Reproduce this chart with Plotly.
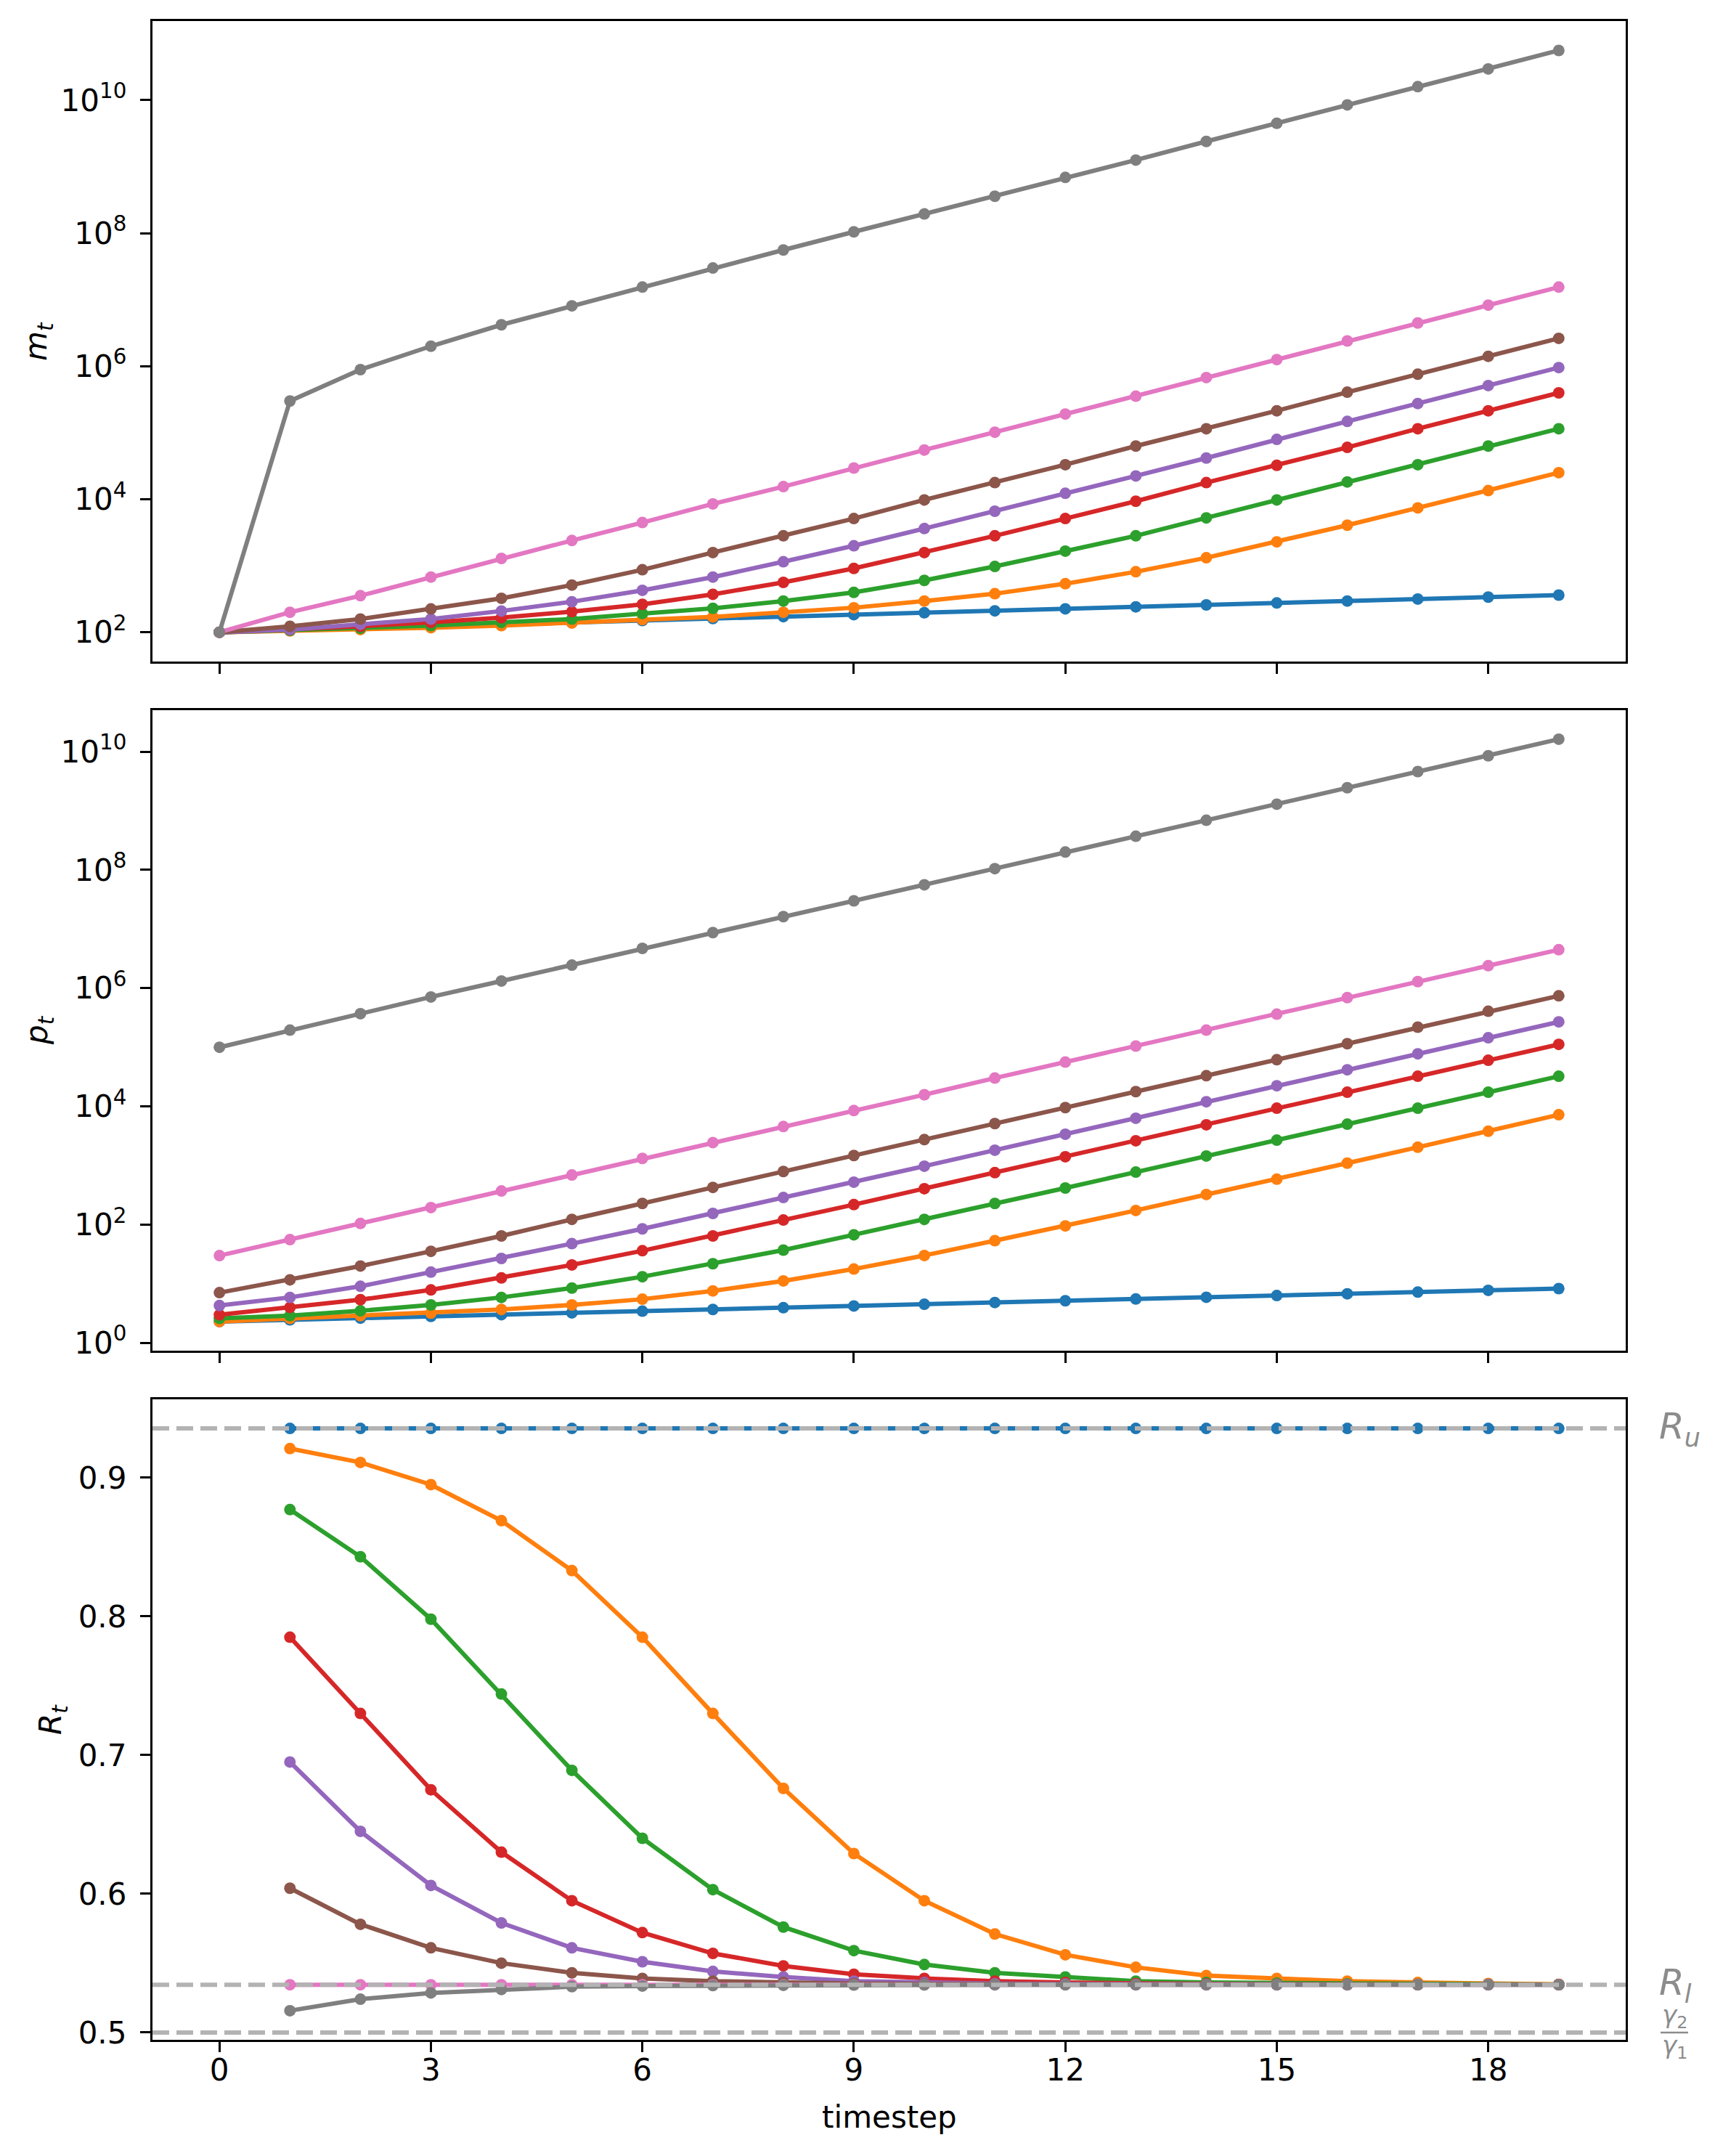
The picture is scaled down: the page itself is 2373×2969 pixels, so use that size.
import plotly.graph_objects as go

# timesteps
t = list(range(20))
t_r = list(range(1, 20))

names = ["blue", "orange", "green", "red", "purple", "brown", "pink", "gray"]
colors = ["#1f77b4", "#ff7f0e", "#2ca02c", "#d62728", "#9467bd", "#8c564b", "#e377c2", "#7f7f7f"]

# m_t (top panel, log scale)
m_blue = [100, 107, 114, 122, 131, 140, 150, 161, 172, 184, 197, 210, 225, 241, 258, 276, 295, 316, 338, 362]
m_orange = [100, 105, 110, 117, 126, 138, 155, 170, 200, 234, 295, 380, 537, 813, 1320, 2290, 4070, 7410, 13500, 25100]
m_green = [100, 107, 115, 126, 141, 158, 191, 229, 295, 398, 603, 977, 1660, 2820, 5250, 9770, 18200, 33100, 63100, 115000]
m_red = [100, 110, 123, 141, 166, 204, 263, 372, 562, 912, 1580, 2820, 5130, 9330, 17800, 32400, 60300, 115000, 214000, 398000]
m_purple = [100, 110, 132, 158, 209, 288, 427, 676, 1150, 2000, 3630, 6610, 12300, 22400, 41700, 79400, 148000, 275000, 513000, 955000]
m_brown = [100, 123, 158, 224, 324, 513, 871, 1580, 2820, 5130, 9770, 17800, 33100, 63100, 115000, 214000, 407000, 759000, 1.41e6, 2.63e6]
m_pink = [100, 200, 355, 676, 1290, 2400, 4470, 8510, 15500, 29500, 55000, 102000, 191000, 355000, 676000, 1.26e6, 2.4e6, 4.47e6, 8.3e6, 1.55e7]
m_gray = [100, 3.0e5, 8.9e5, 2.0e6, 4.2e6, 8.1e6, 1.55e7, 3.0e7, 5.6e7, 1.05e8, 1.95e8, 3.6e8, 6.9e8, 1.26e9, 2.4e9, 4.5e9, 8.5e9, 1.6e10, 2.95e10, 5.6e10]

# p_t (middle panel, log scale)
p_blue = [2.3, 2.46, 2.63, 2.82, 3.01, 3.23, 3.45, 3.69, 3.95, 4.23, 4.52, 4.84, 5.18, 5.54, 5.93, 6.34, 6.79, 7.26, 7.77, 8.32]
p_orange = [2.3, 2.6, 2.9, 3.2, 3.7, 4.4, 5.5, 7.6, 11.2, 17.8, 30.2, 53.7, 95.5, 174, 324, 589, 1100, 2040, 3800, 7240]
p_green = [2.6, 2.9, 3.5, 4.4, 5.9, 8.5, 13.2, 21.9, 37.2, 67.6, 123, 229, 417, 776, 1450, 2690, 5010, 9330, 17400, 32400]
p_red = [3.0, 4.0, 5.4, 7.9, 12.6, 20.9, 36.3, 64.6, 120, 219, 407, 759, 1410, 2630, 4900, 9330, 17400, 32400, 60300, 112000]
p_purple = [4.3, 5.9, 9.1, 15.8, 26.9, 47.9, 85.1, 155, 288, 525, 977, 1820, 3390, 6310, 12000, 22400, 41700, 77600, 145000, 269000]
p_brown = [7.1, 11.7, 20, 35.5, 64.6, 123, 229, 427, 794, 1480, 2750, 5130, 9550, 17800, 33100, 61700, 115000, 219000, 407000, 741000]
p_pink = [30, 56, 105, 195, 372, 692, 1320, 2450, 4570, 8510, 15800, 30200, 56200, 105000, 195000, 363000, 692000, 1.29e6, 2.4e6, 4.47e6]
p_gray = [1.0e5, 1.95e5, 3.7e5, 7.1e5, 1.32e6, 2.45e6, 4.7e6, 8.7e6, 1.62e7, 3.0e7, 5.6e7, 1.05e8, 2.0e8, 3.7e8, 6.9e8, 1.29e9, 2.45e9, 4.6e9, 8.5e9, 1.62e10]

# R_t (bottom panel), starts at t=1
r_blue = [0.9355, 0.9355, 0.9355, 0.9355, 0.9355, 0.9355, 0.9355, 0.9355, 0.9355, 0.9355,
          0.9355, 0.9355, 0.9355, 0.9355, 0.9355, 0.9355, 0.9355, 0.9355, 0.9355]
r_orange = [0.921, 0.911, 0.895, 0.869, 0.833, 0.785, 0.730, 0.676, 0.629, 0.595,
            0.571, 0.556, 0.547, 0.541, 0.539, 0.537, 0.536, 0.5353, 0.5347]
r_green = [0.877, 0.843, 0.798, 0.744, 0.689, 0.640, 0.603, 0.576, 0.559, 0.549,
           0.543, 0.540, 0.537, 0.536, 0.5356, 0.535, 0.5347, 0.5346, 0.5345]
r_red = [0.785, 0.730, 0.675, 0.630, 0.595, 0.572, 0.557, 0.548, 0.542, 0.539,
         0.537, 0.536, 0.5353, 0.535, 0.5347, 0.5346, 0.5345, 0.5345, 0.5345]
r_purple = [0.695, 0.645, 0.606, 0.579, 0.561, 0.551, 0.544, 0.540, 0.537, 0.536,
            0.5353, 0.535, 0.5347, 0.5346, 0.5345, 0.5345, 0.5345, 0.5345, 0.5345]
r_brown = [0.604, 0.578, 0.561, 0.550, 0.543, 0.539, 0.537, 0.536, 0.5353, 0.535,
           0.5347, 0.5346, 0.5345, 0.5345, 0.5345, 0.5345, 0.5345, 0.5345, 0.5345]
r_pink = [0.5344, 0.5344, 0.5344, 0.5344, 0.5344, 0.5344, 0.5344, 0.5344, 0.5344, 0.5344,
          0.5344, 0.5344, 0.5344, 0.5344, 0.5344, 0.5344, 0.5344, 0.5344, 0.5344]
r_gray = [0.5157, 0.524, 0.5285, 0.531, 0.533, 0.5335, 0.5338, 0.534, 0.5342, 0.5343,
          0.5344, 0.5344, 0.5344, 0.5344, 0.5344, 0.5344, 0.5344, 0.5344, 0.5344]

R_u = 0.9355
R_l = 0.5344
gamma_ratio = 0.5

m_all = [m_blue, m_orange, m_green, m_red, m_purple, m_brown, m_pink, m_gray]
p_all = [p_blue, p_orange, p_green, p_red, p_purple, p_brown, p_pink, p_gray]
r_all = [r_blue, r_orange, r_green, r_red, r_purple, r_brown, r_pink, r_gray]

log_ticks = [1, 1e2, 1e4, 1e6, 1e8, 1e10]
log_text = ["10<sup>0</sup>", "10<sup>2</sup>", "10<sup>4</sup>", "10<sup>6</sup>",
            "10<sup>8</sup>", "10<sup>10</sup>"]
r_ticks = [0.5, 0.6, 0.7, 0.8, 0.9]
x_ticks = [0, 3, 6, 9, 12, 15, 18]

W, H = 2373, 2969
FONT = "DejaVu Sans"
FS = 42
LW = 6
MS = 16

fig = go.Figure()
for axn, series, xs in [("", m_all, t), ("2", p_all, t), ("3", r_all, t_r)]:
    for name, col, ys in zip(names, colors, series):
        fig.add_trace(go.Scatter(
            x=xs, y=ys, mode="lines+markers", name=name,
            line=dict(color=col, width=LW), marker=dict(color=col, size=MS),
            xaxis="x" + axn, yaxis="y" + axn, showlegend=False))

# axes placement (pixels -> paper)
x0, x1 = 210 / W, 2239 / W
panels = [(29, 911), (978, 1860), (1927, 2809)]
doms = [[1 - b / H, 1 - a / H] for a, b in panels]

axis_style = dict(showline=True, mirror=True, linecolor="black", linewidth=3.3,
                  ticks="outside", ticklen=14, tickwidth=3.3, tickcolor="black",
                  showgrid=False, zeroline=False, automargin=False,
                  tickfont=dict(family=FONT, size=FS, color="black"),
                  ticklabelstandoff=10)

xcommon = dict(axis_style, range=[-0.95, 19.95], tickmode="array", tickvals=x_ticks,
               domain=[x0, x1], ticklabelstandoff=-12)

fig.update_layout(
    width=W, height=H, margin=dict(l=0, r=0, t=0, b=0),
    paper_bgcolor="white", plot_bgcolor="white",
    font=dict(family=FONT, size=FS, color="black"),
    xaxis=dict(xcommon, anchor="y", showticklabels=False),
    xaxis2=dict(xcommon, anchor="y2", showticklabels=False, matches="x"),
    xaxis3=dict(xcommon, anchor="y3", matches="x"),
    yaxis=dict(axis_style, type="log", range=[1.56, 11.19], domain=doms[0], anchor="x",
               tickmode="array", tickvals=log_ticks, ticktext=log_text),
    yaxis2=dict(axis_style, type="log", range=[-0.13, 10.70], domain=doms[1], anchor="x2",
                tickmode="array", tickvals=log_ticks, ticktext=log_text),
    yaxis3=dict(axis_style, range=[0.4947, 0.9565], domain=doms[2], anchor="x3",
                tickmode="array", tickvals=r_ticks, ticktext=["0.5", "0.6", "0.7", "0.8", "0.9"]),
)

# reference lines in the bottom panel
for yv in [R_u, R_l, gamma_ratio]:
    fig.add_shape(type="line", xref="x3 domain", yref="y3", x0=0, x1=1, y0=yv, y1=yv,
                  line=dict(color="#b3b3b3", width=LW, dash="23px,10px"), layer="above")

# axis labels
lab_font = dict(family=FONT, size=FS, color="black")
ylabels = [("<i>m</i><sub><i>t</i></sub>", 53), ("<i>p</i><sub><i>t</i></sub>", 53),
           ("<i>R</i><sub><i>t</i></sub>", 72)]
for (txt, px), dom in zip(ylabels, doms):
    fig.add_annotation(text=txt, xref="paper", yref="paper", x=px / W, y=(dom[0] + dom[1]) / 2,
                       textangle=-90, showarrow=False, font=lab_font,
                       xanchor="center", yanchor="middle")
fig.add_annotation(text="timestep", xref="paper", yref="paper", x=(x0 + x1) / 2, y=1 - 2915 / H,
                   showarrow=False, font=lab_font, xanchor="center", yanchor="middle")

# right-hand labels
gray_txt = "#8c8c8c"
fig.add_annotation(text="<i>R</i><sub><i>u</i></sub>", xref="paper", yref="y3", x=2283 / W, y=R_u,
                   showarrow=False, xanchor="left", yanchor="middle",
                   font=dict(family=FONT, size=50, color=gray_txt))
fig.add_annotation(text="<i>R</i><sub><i>l</i></sub>", xref="paper", yref="y3", x=2283 / W, y=R_l,
                   showarrow=False, xanchor="left", yanchor="middle",
                   font=dict(family=FONT, size=50, color=gray_txt))
fig.add_annotation(text="<i>γ</i><sub>2</sub>", xref="paper", yref="y3", x=2306 / W, y=gamma_ratio,
                   yshift=22, showarrow=False, xanchor="center", yanchor="middle",
                   font=dict(family=FONT, size=34, color=gray_txt))
fig.add_annotation(text="<i>γ</i><sub>1</sub>", xref="paper", yref="y3", x=2306 / W, y=gamma_ratio,
                   yshift=-20, showarrow=False, xanchor="center", yanchor="middle",
                   font=dict(family=FONT, size=34, color=gray_txt))
fig.add_shape(type="line", xref="paper", yref="y3", x0=2287 / W, x1=2325 / W,
              y0=gamma_ratio, y1=gamma_ratio, line=dict(color=gray_txt, width=2.5))

fig.write_html("out.html", config={"displayModeBar": False},
               post_script="document.body.style.margin='0';")
